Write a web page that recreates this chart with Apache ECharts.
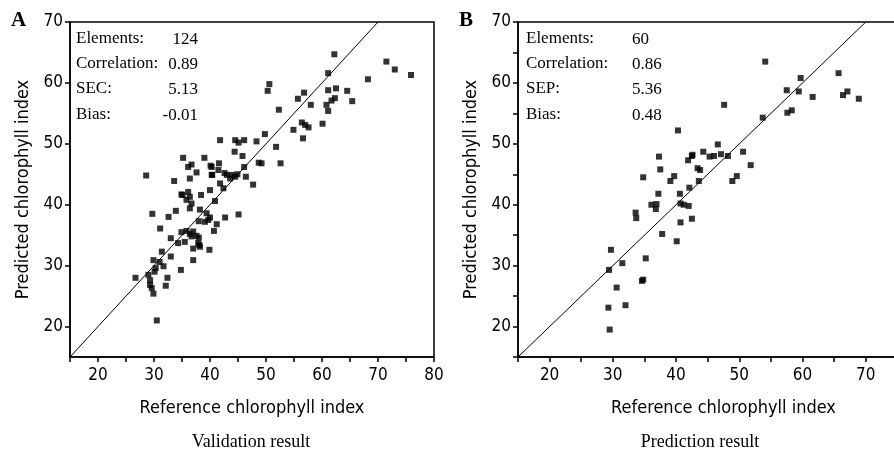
<!DOCTYPE html>
<html>
<head>
<meta charset="utf-8">
<script src="https://cdn.jsdelivr.net/npm/echarts@6/dist/echarts.min.js"></script>
<style>
  html, body { margin: 0; padding: 0; background: #fff; }
  #main { width: 894px; height: 460px; }
</style>
</head>
<body>
<div id="main"></div>
<script>
// validation set: [reference, predicted]
var validationData = [
  [62.2, 64.7], [71.5, 63.5], [73.0, 62.2], [75.9, 61.3], [68.2, 60.6], [61.1, 61.6],
  [50.6, 59.8], [50.3, 58.7], [56.8, 58.4], [55.7, 57.4], [61.1, 58.8], [62.5, 59.1],
  [64.5, 58.7], [65.4, 57.0], [58.0, 56.4], [60.8, 56.4], [61.7, 57.1], [62.3, 57.5],
  [61.1, 55.4], [52.3, 55.6], [56.4, 53.5], [57.0, 53.1], [57.6, 52.7], [54.9, 52.3],
  [60.1, 53.3], [56.6, 50.9], [49.8, 51.6], [48.3, 50.4], [44.5, 50.6], [45.1, 50.2],
  [46.1, 50.6], [41.8, 50.6], [44.4, 48.7], [45.8, 48.0], [51.8, 49.5], [49.2, 46.8],
  [46.1, 46.2], [35.2, 47.7], [39.0, 47.7], [36.7, 46.6], [36.1, 46.2], [37.6, 45.3],
  [40.1, 46.4], [41.6, 46.8], [41.5, 45.7], [40.4, 44.9], [43.0, 44.9], [43.9, 44.9],
  [44.5, 44.6], [43.6, 44.3], [46.4, 44.6], [41.8, 43.5], [42.4, 42.7], [47.7, 43.3],
  [28.6, 44.8], [33.6, 43.9], [36.4, 44.3], [40.0, 42.4], [34.9, 41.7], [36.1, 42.1],
  [36.4, 41.3], [35.8, 40.8], [38.4, 41.6], [36.7, 40.2], [36.4, 39.4], [38.2, 39.2],
  [40.9, 40.6], [33.9, 39.0], [29.7, 38.5], [32.6, 38.0], [39.4, 38.6], [40.0, 37.9],
  [39.1, 37.2], [38.0, 37.3], [41.2, 36.8], [42.7, 37.9], [45.1, 38.4], [31.1, 36.1],
  [34.9, 35.5], [35.8, 35.7], [36.4, 35.2], [37.0, 35.6], [37.6, 34.9], [36.7, 34.8],
  [38.0, 34.6], [40.7, 35.7], [33.0, 34.5], [34.3, 33.7], [35.5, 33.9], [37.9, 33.7],
  [38.2, 33.1], [37.0, 32.8], [39.9, 32.6], [31.4, 32.3], [29.9, 30.9], [31.0, 30.6],
  [33.0, 31.5], [31.7, 29.9], [30.3, 29.6], [30.1, 29.0], [34.8, 29.3], [37.0, 30.9],
  [26.7, 28.0], [29.0, 28.5], [29.3, 27.6], [29.3, 26.8], [29.6, 26.3], [29.9, 25.4],
  [32.4, 28.0], [32.1, 26.7], [30.5, 21.0], [48.7, 46.9], [52.6, 46.8], [38.1, 33.4],
  [42.6, 45.2], [44.9, 45.0], [40.3, 46.2], [40.3, 44.9], [35.1, 41.6], [39.7, 37.5]
];

// prediction set: [reference, predicted]
var predictionData = [
  [54.1, 63.5], [65.7, 61.6], [59.7, 60.8], [57.5, 58.8], [59.4, 58.6], [61.6, 57.7],
  [66.4, 58.0], [67.1, 58.6], [68.9, 57.4], [47.6, 56.4], [53.7, 54.3], [57.6, 55.1],
  [58.3, 55.5], [50.6, 48.7], [46.6, 49.9], [44.3, 48.7], [45.3, 47.9], [46.0, 48.0],
  [47.1, 48.3], [48.2, 48.0], [42.5, 48.0], [40.3, 52.2], [37.3, 47.9], [41.9, 47.3],
  [37.5, 45.8], [43.4, 46.0], [43.8, 45.7], [51.8, 46.5], [49.6, 44.7], [48.9, 43.9],
  [34.8, 44.5], [39.7, 44.7], [39.1, 43.9], [43.6, 43.9], [42.1, 42.8], [37.2, 41.8],
  [40.6, 41.8], [36.1, 40.0], [36.9, 40.1], [36.8, 39.3], [41.2, 40.0], [42.0, 39.8],
  [33.6, 38.7], [33.7, 37.8], [40.7, 37.1], [42.5, 37.7], [37.8, 35.2], [40.1, 34.0],
  [35.2, 31.2], [29.7, 32.6], [31.5, 30.4], [29.4, 29.3], [30.6, 26.4], [34.6, 27.5],
  [29.3, 23.1], [32.0, 23.5], [29.5, 19.5], [42.6, 48.2], [40.7, 40.2], [34.8, 27.7]
];

// 1:1 line
var identityLine = [[15, 15], [70, 70]];

var statLabels = ['Elements:', 'Correlation:', 'SEC:', 'Bias:'];
var statLabelsB = ['Elements:', 'Correlation:', 'SEP:', 'Bias:'];
var statValuesA = ['124', '0.89', '5.13', '-0.01'];
var statValuesB = ['60', '0.86', '5.36', '0.48'];
var yTicksA = [20, 30, 40, 50, 60, 70];

var SANS = "'Liberation Sans Narrow', 'DejaVu Sans Condensed', Arial, sans-serif";
var SERIF = "'Liberation Serif', 'DejaVu Serif', serif";

var myChart = echarts.init(document.getElementById('main'), null, { renderer: 'canvas' });

function xAxisCfg(idx) {
  return {
    type: 'value', gridIndex: idx, min: 15, max: 80, interval: 5,
    name: 'Reference chlorophyll index', nameLocation: 'middle', nameGap: 42,
    nameTextStyle: { fontFamily: SANS, fontSize: 18, color: '#000' },
    axisLine: { onZero: false, lineStyle: { color: '#000', width: 1.5 } },
    axisTick: { length: 5, lineStyle: { color: '#000', width: 1.5 } },
    axisLabel: {
      margin: 10, color: '#000', fontFamily: SANS, fontSize: 17,
      formatter: function (v) { return v % 10 === 0 ? String(v) : ''; }
    },
    splitLine: { show: false }
  };
}

function yAxisCfg(idx, minorTicks) {
  var tick = { length: 5, lineStyle: { color: '#000', width: 1.5 } };
  if (!minorTicks) tick.customValues = yTicksA;
  return {
    type: 'value', gridIndex: idx, min: 15, max: 70, interval: 5,
    name: 'Predicted chlorophyll index', nameLocation: 'middle', nameGap: 38,
    nameTextStyle: { fontFamily: SANS, fontSize: 18, color: '#000' },
    axisLine: { onZero: false, lineStyle: { color: '#000', width: 1.5 } },
    axisTick: tick,
    axisLabel: {
      margin: 7, color: '#000', fontFamily: SANS, fontSize: 17,
      formatter: function (v) { return v % 10 === 0 && v >= 20 ? String(v) : ''; }
    },
    splitLine: { show: false }
  };
}

function statText(labels, values, x0, xv, alignV) {
  var els = [];
  var ys = [40, 65, 90, 116];
  for (var i = 0; i < labels.length; i++) {
    els.push({ type: 'text', left: x0, top: ys[i] - 10,
      style: { text: labels[i], font: '17px ' + SERIF, fill: '#000' } });
    els.push({ type: 'text', x: xv, y: ys[i],
      style: { text: values[i], font: '17px ' + SERIF, fill: '#000', align: alignV, verticalAlign: 'middle' } });
  }
  return els;
}

var graphics = [
  { type: 'text', left: 11, top: 10, style: { text: 'A', font: 'bold 21px ' + SERIF, fill: '#000' } },
  { type: 'text', left: 459, top: 10, style: { text: 'B', font: 'bold 21px ' + SERIF, fill: '#000' } },
  { type: 'text', x: 251, y: 442, style: { text: 'Validation result', font: '18px ' + SERIF, fill: '#000', align: 'center', verticalAlign: 'middle' } },
  { type: 'text', x: 700, y: 442, style: { text: 'Prediction result', font: '18px ' + SERIF, fill: '#000', align: 'center', verticalAlign: 'middle' } }
].concat(statText(statLabels, statValuesA, 76, 198, 'right'))
 .concat(statText(statLabelsB, statValuesB, 526, 632, 'left'));

var option = {
  backgroundColor: '#fff',
  animation: false,
  grid: [
    { left: 70, top: 22, width: 364, height: 335, outerBoundsMode: 'none', show: true, borderColor: '#000', borderWidth: 1.5, backgroundColor: 'transparent' },
    { left: 518, top: 22, width: 411, height: 335, outerBoundsMode: 'none', show: true, borderColor: '#000', borderWidth: 1.5, backgroundColor: 'transparent' }
  ],
  xAxis: [xAxisCfg(0), xAxisCfg(1)],
  yAxis: [yAxisCfg(0, false), yAxisCfg(1, true)],
  graphic: graphics,
  series: [
    {
      name: 'Validation', type: 'scatter', xAxisIndex: 0, yAxisIndex: 0,
      symbol: 'rect', symbolSize: 6, itemStyle: { color: '#000' },
      data: validationData
    },
    {
      name: 'Validation 1:1', type: 'line', xAxisIndex: 0, yAxisIndex: 0,
      symbol: 'none', lineStyle: { color: '#000', width: 1 }, data: identityLine
    },
    {
      name: 'Prediction', type: 'scatter', xAxisIndex: 1, yAxisIndex: 1,
      symbol: 'rect', symbolSize: 6, itemStyle: { color: '#000' },
      data: predictionData
    },
    {
      name: 'Prediction 1:1', type: 'line', xAxisIndex: 1, yAxisIndex: 1,
      symbol: 'none', lineStyle: { color: '#000', width: 1 }, data: identityLine
    }
  ]
};

myChart.setOption(option);
</script>
</body>
</html>
